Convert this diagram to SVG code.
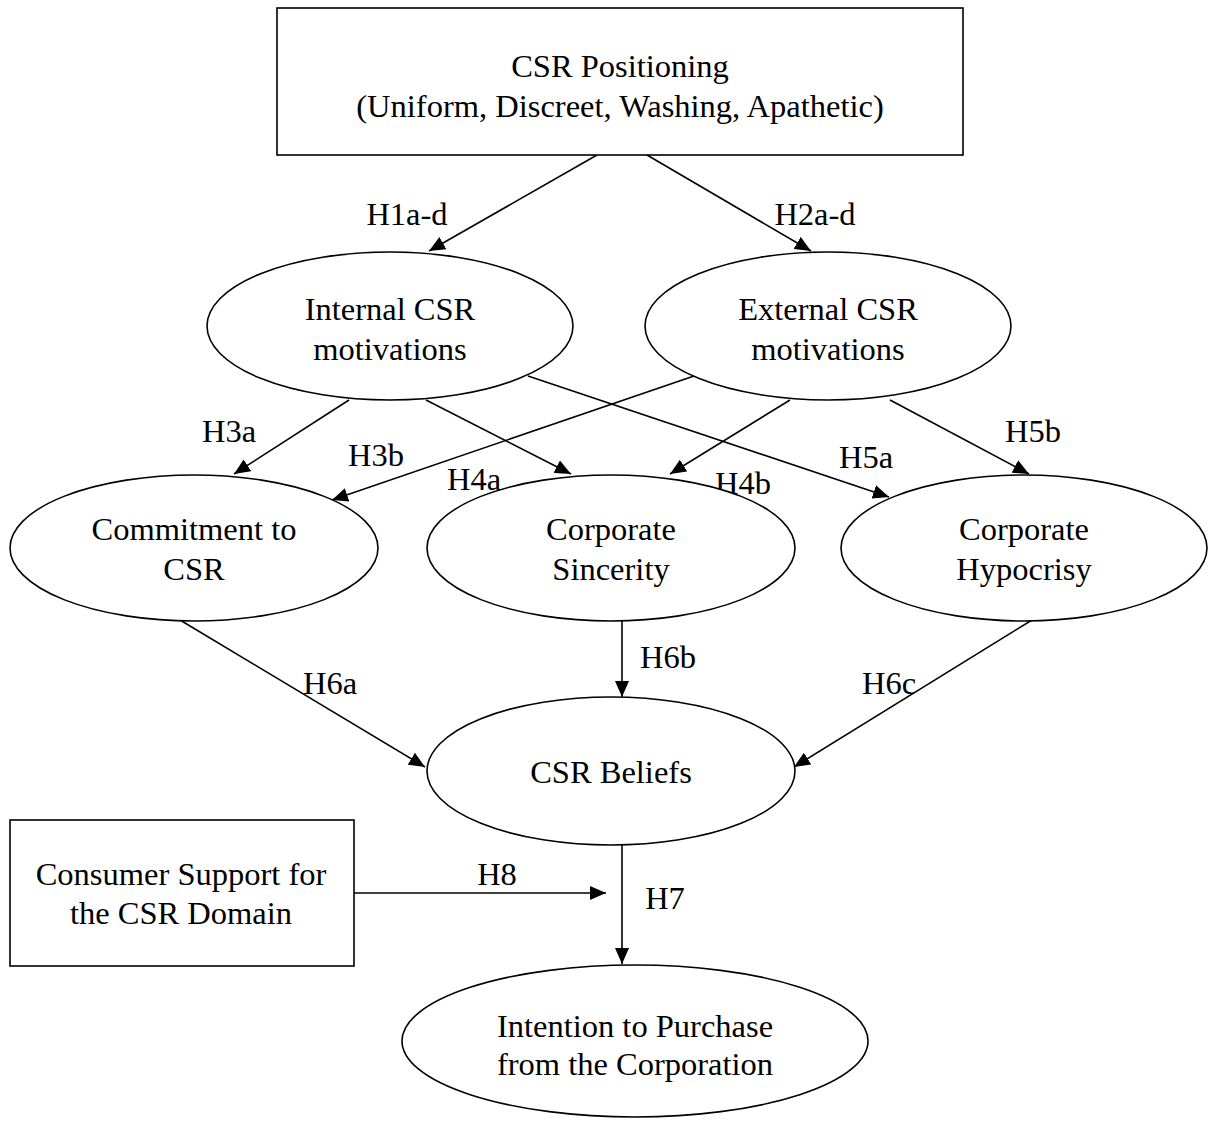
<svg xmlns="http://www.w3.org/2000/svg" width="1211" height="1122" viewBox="0 0 1211 1122">
<style>
.box{fill:#fff;stroke:#000;stroke-width:1.6}
.t{font-family:"Liberation Serif","Times New Roman",serif;font-size:32.5px;fill:#000;text-anchor:middle}
.c{stroke:#000;stroke-width:1.6;fill:none;marker-end:url(#ah)}
</style>
<defs>
<marker id="ah" markerUnits="userSpaceOnUse" markerWidth="18" markerHeight="14" refX="16" refY="7" orient="auto">
<path d="M0,0 L16,7 L0,14 Z" fill="#000"/>
</marker>
</defs>
<rect width="1211" height="1122" fill="#fff"/>
<g id="connectors">
<line class="c" x1="597" y1="155" x2="429" y2="251"/>
<line class="c" x1="647" y1="155" x2="811" y2="251"/>
<line class="c" x1="349" y1="400" x2="234" y2="474"/>
<line class="c" x1="426" y1="400" x2="571" y2="474"/>
<line class="c" x1="528" y1="376" x2="889" y2="497"/>
<line class="c" x1="694" y1="376" x2="332" y2="500"/>
<line class="c" x1="790" y1="400" x2="670" y2="474"/>
<line class="c" x1="890" y1="400" x2="1029" y2="474"/>
<line class="c" x1="180" y1="620" x2="425" y2="767"/>
<line class="c" x1="622" y1="620" x2="622" y2="697"/>
<line class="c" x1="1032" y1="620" x2="794" y2="767"/>
<line class="c" x1="354" y1="893" x2="606" y2="893"/>
<line class="c" x1="622" y1="845" x2="622" y2="964"/>
<text class="t" x="407" y="225">H1a-d</text>
<text class="t" x="815" y="225">H2a-d</text>
<text class="t" x="229" y="442">H3a</text>
<text class="t" x="376" y="466">H3b</text>
<text class="t" x="474" y="490">H4a</text>
<text class="t" x="743" y="494">H4b</text>
<text class="t" x="866" y="468">H5a</text>
<text class="t" x="1033" y="442">H5b</text>
<text class="t" x="330" y="694">H6a</text>
<text class="t" x="668" y="668">H6b</text>
<text class="t" x="889" y="694">H6c</text>
<text class="t" x="497" y="885">H8</text>
<text class="t" x="665" y="909">H7</text>
</g>
<g id="csr-positioning">
<rect class="box" x="277" y="8" width="686" height="147"/>
<text class="t" x="620" y="77">CSR Positioning</text>
<text class="t" x="620" y="117">(Uniform, Discreet, Washing, Apathetic)</text>
</g>
<g id="internal">
<ellipse class="box" cx="390" cy="326" rx="183" ry="74"/>
<text class="t" x="390" y="320">Internal CSR</text>
<text class="t" x="390" y="360">motivations</text>
</g>
<g id="external">
<ellipse class="box" cx="828" cy="326" rx="183" ry="74"/>
<text class="t" x="828" y="320">External CSR</text>
<text class="t" x="828" y="360">motivations</text>
</g>
<g id="commitment">
<ellipse class="box" cx="194" cy="548" rx="184" ry="73"/>
<text class="t" x="194" y="540">Commitment to</text>
<text class="t" x="194" y="580">CSR</text>
</g>
<g id="sincerity">
<ellipse class="box" cx="611" cy="548" rx="184" ry="73"/>
<text class="t" x="611" y="540">Corporate</text>
<text class="t" x="611" y="580">Sincerity</text>
</g>
<g id="hypocrisy">
<ellipse class="box" cx="1024" cy="548" rx="183" ry="73"/>
<text class="t" x="1024" y="540">Corporate</text>
<text class="t" x="1024" y="580">Hypocrisy</text>
</g>
<g id="beliefs">
<ellipse class="box" cx="611" cy="771" rx="184" ry="74"/>
<text class="t" x="611" y="783">CSR Beliefs</text>
</g>
<g id="consumer-support">
<rect class="box" x="10" y="820" width="344" height="146"/>
<text class="t" x="181" y="885">Consumer Support for</text>
<text class="t" x="181" y="924">the CSR Domain</text>
</g>
<g id="intention">
<ellipse class="box" cx="635" cy="1041" rx="233" ry="76"/>
<text class="t" x="635" y="1037">Intention to Purchase</text>
<text class="t" x="635" y="1075">from the Corporation</text>
</g>
</svg>
